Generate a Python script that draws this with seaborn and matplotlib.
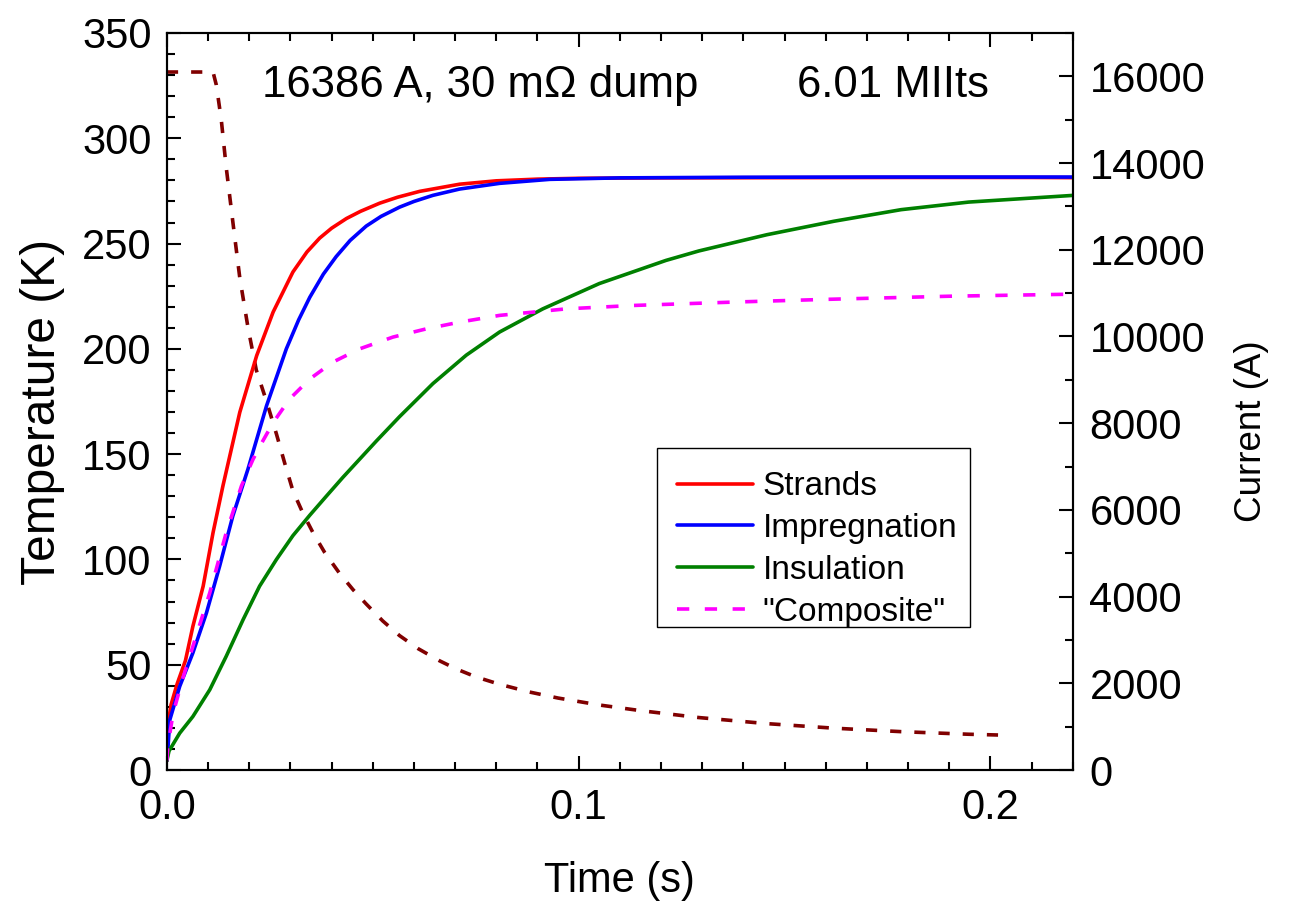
import numpy as np
import pandas as pd
import matplotlib
matplotlib.use("Agg")
import matplotlib.pyplot as plt
from matplotlib.ticker import MultipleLocator, FixedLocator
from matplotlib.patches import Rectangle
import seaborn as sns

# ---- data ----
t_strands = [0, 0.0003, 0.001, 0.0025, 0.0045, 0.0063, 0.0088, 0.0112, 0.0136, 0.0177, 0.0218,
             0.0258, 0.0306, 0.034, 0.0371, 0.040, 0.0436, 0.047, 0.0517, 0.056, 0.0614,
             0.0711, 0.08, 0.09, 0.1, 0.12, 0.15, 0.18, 0.21, 0.221]
T_strands = [4.5, 22, 31, 41, 52, 68.2, 87.3, 112.7, 134.9, 169.9, 196.8,
             217.5, 236.5, 246, 252.6, 257.3, 261.9, 265.3, 269.2, 272, 274.8,
             278.2, 279.8, 280.6, 281, 281.2, 281.3, 281.4, 281.4, 281.3]

t_impreg = [0, 0.0003, 0.0007, 0.0031, 0.0063, 0.0096, 0.0128, 0.016, 0.0197, 0.0242, 0.029,
            0.032, 0.0347, 0.038, 0.0411, 0.0445, 0.0484, 0.052, 0.0565, 0.060, 0.0646,
            0.0711, 0.0808, 0.093, 0.11, 0.14, 0.17, 0.2, 0.221]
T_impreg = [4.5, 12, 23.8, 39.7, 55.6, 74.6, 96.8, 120.6, 143, 173, 200,
            213.8, 224.5, 235.5, 243.8, 251.5, 258.3, 262.9, 267.3, 270, 272.9,
            275.9, 278.6, 280.5, 281.2, 281.5, 281.6, 281.6, 281.6]

t_insul = [0, 0.0005, 0.0031, 0.0063, 0.0104, 0.0144, 0.0185, 0.0225, 0.0266, 0.0306, 0.0347,
           0.0387, 0.0427, 0.0468, 0.0509, 0.0565, 0.0646, 0.0727, 0.0808, 0.0913, 0.105,
           0.1212, 0.1292, 0.1457, 0.162, 0.1783, 0.1947, 0.221]
T_insul = [4.5, 9, 17.5, 25.4, 38.1, 54, 71.4, 87.3, 100, 111.3, 121,
           130, 138.9, 147.6, 156.3, 167.8, 183.5, 197, 208, 219, 231,
           242, 246.5, 254.2, 260.6, 266.1, 269.7, 273]

t_comp = [0, 0.0002, 0.0015, 0.004, 0.0063, 0.0104, 0.0144, 0.0181, 0.0209, 0.0225, 0.0258,
          0.0298, 0.0347, 0.0403, 0.0468, 0.0549, 0.063, 0.0711, 0.0808, 0.097, 0.1131,
          0.1374, 0.16, 0.19, 0.221]
T_comp = [4.5, 11, 27, 44.4, 58.7, 84.1, 112.7, 134.9, 147.5, 153.5, 165,
          176.2, 185.7, 193.7, 200, 205.6, 209.5, 212.7, 215.9, 219, 220.6,
          222.2, 223.5, 225, 226]

t_current = [0, 0.0112, 0.012, 0.0132, 0.0144, 0.016, 0.0177, 0.0197, 0.0217, 0.0242, 0.0266,
             0.0286, 0.0306, 0.033, 0.0355, 0.0383, 0.0419, 0.0452, 0.0484, 0.0524, 0.0565,
             0.061, 0.0662, 0.0703, 0.075, 0.0807, 0.088, 0.095, 0.105, 0.115, 0.1292,
             0.1457, 0.162, 0.1783, 0.1947, 0.2029]
I_current = [16100, 16100, 15800, 15000, 13900, 12650, 11350, 10200, 9227, 8500, 7750,
             7080, 6440, 5930, 5470, 5020, 4540, 4160, 3830, 3440, 3100,
             2800, 2520, 2330, 2150, 1980, 1800, 1660, 1500, 1370, 1210,
             1070, 965, 885, 825, 805]

series_labels = ["Strands", "Impregnation", "Insulation", '"Composite"']
x_tick_labels = ["0.0", "0.1", "0.2"]
annot_left = "16386 A, 30 m\u03A9 dump"
annot_right = "6.01 MIIts"

# ---- style ----
sns.set_style("ticks")
plt.rcParams['font.family'] = ['Liberation Sans', 'DejaVu Sans']
plt.rcParams['axes.linewidth'] = 1.5
for k in ['text.color', 'axes.labelcolor', 'xtick.color', 'ytick.color', 'axes.edgecolor']:
    plt.rcParams[k] = 'black'

FS = 30
fig = plt.figure(figsize=(12.94, 9.09), dpi=100)
ax = fig.add_axes([0.129, 0.1529, 0.700, 0.8108])
ax2 = ax.twinx()

lw = 2.6
sns.lineplot(x=t_strands, y=T_strands, ax=ax, color="#FF0000", linewidth=lw, label=series_labels[0], sort=False)
sns.lineplot(x=t_impreg, y=T_impreg, ax=ax, color="#0000FF", linewidth=lw, label=series_labels[1], sort=False)
sns.lineplot(x=t_insul, y=T_insul, ax=ax, color="#008000", linewidth=lw, label=series_labels[2], sort=False)
sns.lineplot(x=t_comp, y=T_comp, ax=ax, color="#FF00FF", linewidth=lw, label=series_labels[3], sort=False)
ax.lines[-1].set_dashes((3.4, 4.3))

sns.lineplot(x=t_current, y=I_current, ax=ax2, color="#800000", linewidth=lw, sort=False, legend=False)
ax2.lines[-1].set_dashes((3.1, 3.6))

# ---- axes ----
ax.set_xlim(0, 0.22)
ax.set_ylim(0, 350)
ax2.set_ylim(0, 17000)

ax.xaxis.set_major_locator(FixedLocator([0.0, 0.1, 0.2]))
ax.set_xticklabels(x_tick_labels)
ax.xaxis.set_minor_locator(MultipleLocator(0.01))
ax.yaxis.set_major_locator(MultipleLocator(50))
ax.yaxis.set_minor_locator(MultipleLocator(10))
ax2.yaxis.set_major_locator(MultipleLocator(2000))
ax2.yaxis.set_minor_locator(MultipleLocator(1000))

for a in (ax, ax2):
    for s in a.spines.values():
        s.set_linewidth(1.5)
        s.set_color("black")
        s.set_visible(True)

ax.tick_params(which='both', direction='in', top=True, right=False, left=True, bottom=True,
               width=1.5, labelsize=FS, colors='black')
ax.tick_params(axis='y', pad=11)
ax.tick_params(axis='x', pad=13)
ax.tick_params(which='major', length=10)
ax.tick_params(which='minor', length=6)
ax2.tick_params(which='both', direction='in', right=True, left=False, top=False, bottom=False,
                width=1.5, labelsize=FS, pad=12, colors='black')
ax2.tick_params(which='major', length=10)
ax2.tick_params(which='minor', length=6)

ax.set_xlabel("Time (s)", fontsize=FS, labelpad=24)
ax.set_ylabel("Temperature (K)", fontsize=34.5)
ax.yaxis.set_label_coords(-0.1129, 0.4858)
ax2.set_ylabel("Current (A)", fontsize=26.5)
ax2.yaxis.set_label_coords(1.1782, 0.46)

ax.text(0.1049, 0.929, annot_left, transform=ax.transAxes, fontsize=31.5, ha='left', va='center')
ax.text(0.6954, 0.929, annot_right, transform=ax.transAxes, fontsize=31.5, ha='left', va='center')

# legend frame (box) and legend entries
ax.add_patch(Rectangle((0.5408, 0.194), 0.3455, 0.2429, transform=ax.transAxes,
                       facecolor='white', edgecolor='black', linewidth=1.0, zorder=4))
leg = ax.legend(loc='upper left', bbox_to_anchor=(0.5629, 0.4053), fontsize=24,
                frameon=False, handlelength=2.28, handletextpad=0.3, borderpad=0,
                labelspacing=0.325, borderaxespad=0)
leg.set_zorder(5)
ax.set_zorder(ax2.get_zorder() + 1)
ax.patch.set_visible(False)

fig.savefig("out.png", dpi=100, facecolor="white")
